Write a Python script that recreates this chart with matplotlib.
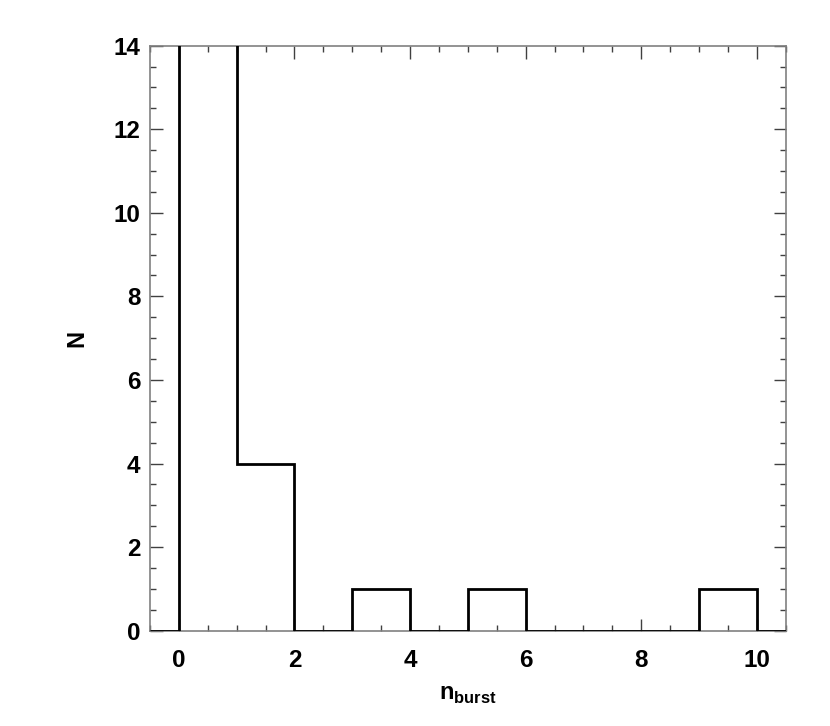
import numpy as np
import matplotlib
matplotlib.use("Agg")
import matplotlib.pyplot as plt
from matplotlib.ticker import MultipleLocator

# Data: histogram of n_burst (bin edges 0..10, unit width)
bin_edges = [0, 1, 2, 3, 4, 5, 6, 7, 8, 9, 10]
counts = [20, 4, 0, 1, 0, 1, 0, 0, 0, 1]   # first bin exceeds the plotted range
x_ticks = [0, 2, 4, 6, 8, 10]
y_ticks = [0, 2, 4, 6, 8, 10, 12, 14]

plt.rcParams['font.family'] = ['Liberation Sans', 'DejaVu Sans']
plt.rcParams['font.weight'] = 'bold'
plt.rcParams['mathtext.fontset'] = 'custom'
plt.rcParams['mathtext.bf'] = 'Liberation Sans:bold'
plt.rcParams['mathtext.rm'] = 'Liberation Sans:bold'

fig = plt.figure(figsize=(8.30, 7.26), dpi=100)
ax = fig.add_axes([0.1807, 0.1313, 0.7659, 0.8058])

xmin, xmax = -0.5, 10.5
edges = np.concatenate([[xmin], bin_edges, [xmax]])
vals = np.concatenate([[0], counts, [0]])
ax.stairs(vals, edges, color='black', linewidth=2.0, baseline=None, zorder=3)

ax.set_xlim(xmin, xmax)
ax.set_ylim(0, 14)
ax.set_xticks(x_ticks)
ax.set_yticks(y_ticks)
ax.xaxis.set_minor_locator(MultipleLocator(0.5))
ax.yaxis.set_minor_locator(MultipleLocator(0.5))

for s in ax.spines.values():
    s.set_color('#808080')
    s.set_linewidth(1.2)

ax.tick_params(which='both', direction='in', top=True, right=True,
               color='#404040', width=1.0)
ax.tick_params(which='major', length=9, labelsize=17.5)
ax.tick_params(which='minor', length=4.5)
ax.tick_params(axis='x', which='major', pad=13)
ax.tick_params(axis='y', which='major', pad=7)
for lab in ax.get_xticklabels() + ax.get_yticklabels():
    lab.set_fontweight('bold')

ax.set_ylabel('N', fontsize=17, fontweight='bold', labelpad=18)
ax.set_xlabel(r'n$_{\mathbf{burst}}$', fontsize=17, fontweight='bold', labelpad=8)

fig.savefig('out.png', dpi=100)
